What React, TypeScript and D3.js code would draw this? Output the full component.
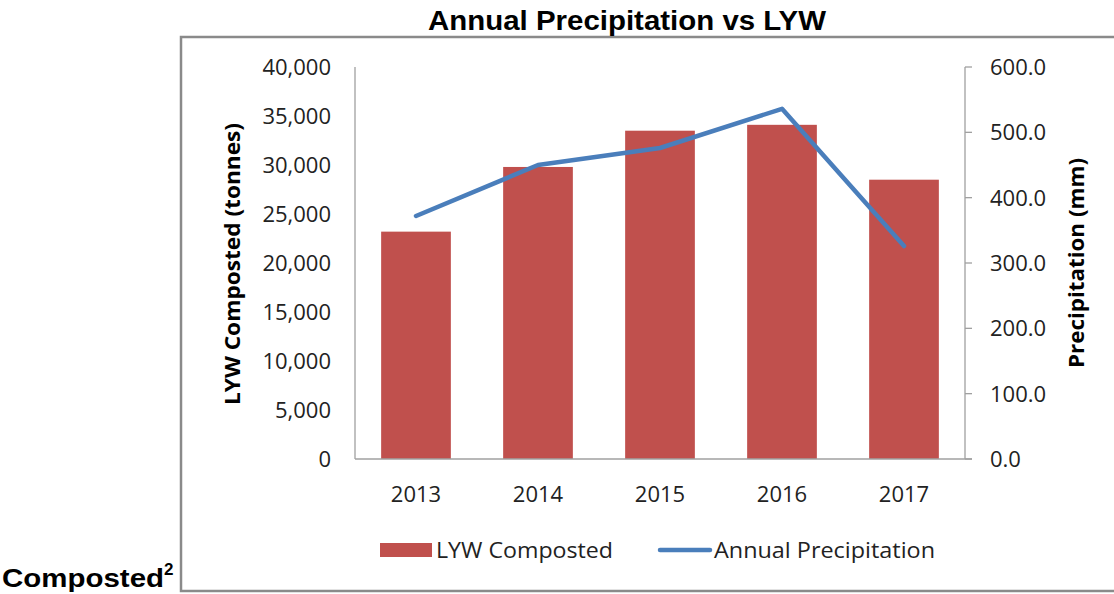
import React, { useEffect, useRef } from "react";
import * as d3 from "d3";

const years = ["2013", "2014", "2015", "2016", "2017"];
const composted = [23200, 29800, 33500, 34100, 28500]; // tonnes
const precipitation = [372, 450, 476, 536, 326]; // mm
const leftTicks = [0, 5000, 10000, 15000, 20000, 25000, 30000, 35000, 40000];
const rightTicks = [0, 100, 200, 300, 400, 500, 600];

const App = () => {
  const ref = useRef<SVGSVGElement>(null);

  useEffect(() => {
    document.body.style.margin = "0";
    const svg = d3.select(ref.current);
    svg.selectAll("*").remove();

    const left = 355;
    const right = 965;
    const top = 67;
    const bottom = 459;
    const font = "'Open Sans', sans-serif";
    const axisColor = "#a0a0a0";

    const x = d3.scaleBand().domain(years).range([left, right]).paddingInner(0.4286).paddingOuter(0.2143);
    const yL = d3.scaleLinear().domain([0, 40000]).range([bottom, top]);
    const yR = d3.scaleLinear().domain([0, 600]).range([bottom, top]);

    // chart frame
    svg.append("rect")
      .attr("x", 181)
      .attr("y", 37)
      .attr("width", 1000)
      .attr("height", 554)
      .attr("fill", "none")
      .attr("stroke", "#8a8a8a")
      .attr("stroke-width", 2.5);

    // title
    svg.append("text")
      .attr("x", 627)
      .attr("y", 30)
      .attr("text-anchor", "middle")
      .attr("font-family", "'Liberation Sans', Arial, sans-serif")
      .attr("font-weight", "bold")
      .attr("font-size", 27)
      .attr("textLength", 398)
      .attr("lengthAdjust", "spacingAndGlyphs")
      .text("Annual Precipitation vs LYW");

    // bars
    svg.selectAll(".bar")
      .data(composted)
      .enter()
      .append("rect")
      .attr("class", "bar")
      .attr("x", (d, i) => x(years[i])!)
      .attr("y", (d) => yL(d))
      .attr("width", x.bandwidth())
      .attr("height", (d) => bottom - yL(d))
      .attr("fill", "#c0504d");

    // axes lines
    svg.append("line").attr("x1", left).attr("x2", left).attr("y1", top).attr("y2", bottom).attr("stroke", axisColor).attr("stroke-width", 1.3);
    svg.append("line").attr("x1", right).attr("x2", right).attr("y1", top).attr("y2", bottom).attr("stroke", axisColor).attr("stroke-width", 1.3);
    svg.append("line").attr("x1", left).attr("x2", right + 7).attr("y1", bottom).attr("y2", bottom).attr("stroke", axisColor).attr("stroke-width", 1.3);

    // left tick labels
    svg.selectAll(".lt")
      .data(leftTicks)
      .enter()
      .append("text")
      .attr("x", 331)
      .attr("y", (d) => yL(d))
      .attr("dy", "0.36em")
      .attr("text-anchor", "end")
      .attr("font-family", font)
      .attr("font-size", 22)
      .attr("fill", "#222")
      .text((d) => d3.format(",")(d));

    // right ticks + labels
    svg.selectAll(".rtick")
      .data(rightTicks)
      .enter()
      .append("line")
      .attr("x1", right)
      .attr("x2", right + 7)
      .attr("y1", (d) => yR(d))
      .attr("y2", (d) => yR(d))
      .attr("stroke", axisColor)
      .attr("stroke-width", 1.3);

    svg.selectAll(".rt")
      .data(rightTicks)
      .enter()
      .append("text")
      .attr("x", 990)
      .attr("y", (d) => yR(d))
      .attr("dy", "0.36em")
      .attr("font-family", font)
      .attr("font-size", 22)
      .attr("fill", "#222")
      .text((d) => d3.format(".1f")(d));

    // x labels
    svg.selectAll(".xt")
      .data(years)
      .enter()
      .append("text")
      .attr("x", (d) => x(d)! + x.bandwidth() / 2)
      .attr("y", 502)
      .attr("text-anchor", "middle")
      .attr("font-family", font)
      .attr("font-size", 22)
      .attr("fill", "#222")
      .text((d) => d);

    // precipitation line
    const line = d3.line<number>()
      .x((d, i) => x(years[i])! + x.bandwidth() / 2)
      .y((d) => yR(d));
    svg.append("path")
      .attr("d", line(precipitation)!)
      .attr("fill", "none")
      .attr("stroke", "#4a7ebb")
      .attr("stroke-width", 4.5)
      .attr("stroke-linecap", "round")
      .attr("stroke-linejoin", "round");

    // axis titles
    svg.append("text")
      .attr("transform", "translate(240,264) rotate(-90)")
      .attr("text-anchor", "middle")
      .attr("font-family", font)
      .attr("font-weight", "bold")
      .attr("font-size", 21)
      .attr("textLength", 282)
      .attr("lengthAdjust", "spacingAndGlyphs")
      .text("LYW Composted (tonnes)");

    svg.append("text")
      .attr("transform", "translate(1084,263) rotate(-90)")
      .attr("text-anchor", "middle")
      .attr("font-family", font)
      .attr("font-weight", "bold")
      .attr("font-size", 21)
      .attr("textLength", 210)
      .attr("lengthAdjust", "spacingAndGlyphs")
      .text("Precipitation (mm)");

    // legend
    svg.append("rect").attr("x", 380).attr("y", 543).attr("width", 52).attr("height", 14).attr("fill", "#c0504d");
    svg.append("text")
      .attr("x", 436)
      .attr("y", 550)
      .attr("dy", "0.36em")
      .attr("font-family", font)
      .attr("font-size", 22)
      .attr("fill", "#222")
      .attr("textLength", 177)
      .attr("lengthAdjust", "spacingAndGlyphs")
      .text("LYW Composted");
    svg.append("line").attr("x1", 660).attr("x2", 710).attr("y1", 550).attr("y2", 550)
      .attr("stroke", "#4a7ebb").attr("stroke-width", 4.5).attr("stroke-linecap", "round");
    svg.append("text")
      .attr("x", 714)
      .attr("y", 550)
      .attr("dy", "0.36em")
      .attr("font-family", font)
      .attr("font-size", 22)
      .attr("fill", "#222")
      .attr("textLength", 221)
      .attr("lengthAdjust", "spacingAndGlyphs")
      .text("Annual Precipitation");

    // stray caption text from the page
    const cap = svg.append("text")
      .attr("x", 2)
      .attr("y", 587)
      .attr("font-family", "'Liberation Sans', Arial, sans-serif")
      .attr("font-weight", "bold")
      .attr("font-size", 26);
    cap.append("tspan").attr("textLength", 162).attr("lengthAdjust", "spacingAndGlyphs").text("Composted");
    cap.append("tspan").attr("font-size", 17).attr("dy", -12).text("2");
  }, []);

  return <svg ref={ref} width={1114} height={594} style={{ display: "block", background: "#fff" }} />;
};

export default App;
